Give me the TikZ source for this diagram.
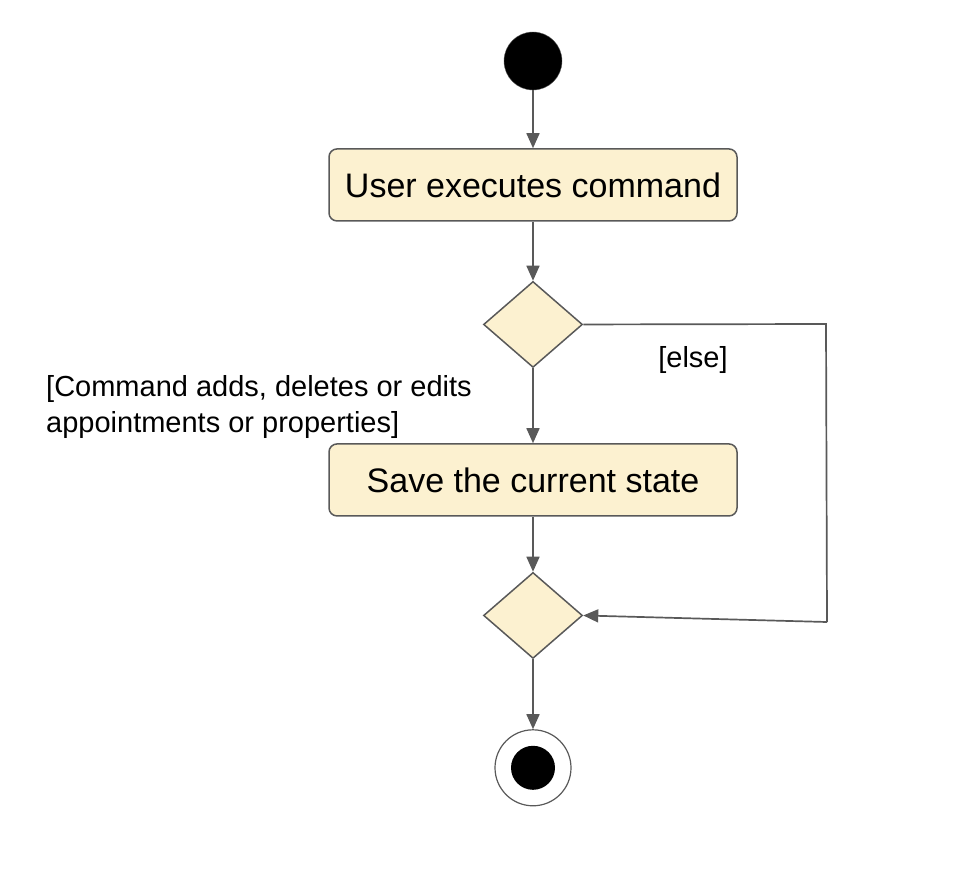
\documentclass[tikz,border=0pt]{standalone}
\usepackage{fontspec}
\setmainfont{Liberation Sans}
\usetikzlibrary{arrows.meta,positioning,shapes.geometric}
\definecolor{actfill}{RGB}{252,241,208}
\definecolor{edge}{RGB}{89,89,89}
\tikzset{
  act/.style={draw=edge, line width=1.5pt, fill=actfill, rounded corners=8pt,
              minimum width=408pt, minimum height=72pt,
              font=\fontsize{34}{40}\selectfont},
  dec/.style={diamond, draw=edge, line width=1.5pt, fill=actfill,
              minimum width=99pt, minimum height=86pt, inner sep=0pt},
  init/.style={circle, fill=black, draw=edge, minimum size=58pt, inner sep=0pt},
  fin/.style={circle, draw=edge, line width=1.2pt, minimum size=76pt, inner sep=0pt,
              path picture={\fill[black] (path picture bounding box.center) circle (22pt);}},
  sig/.style={-{Triangle[length=15pt,width=13pt]}, draw=edge, line width=1.7pt},
  flow/.style={draw=edge, line width=1.7pt},
  lbl/.style={font=\fontsize{29}{36}\selectfont, inner sep=0pt, align=left},
}
\begin{document}
\begin{tikzpicture}[x=1pt, y=-1pt]
    \useasboundingbox (0,0) rectangle (962,876);
    \node[init] (start) at (533,61) {};
    \node[act, below=58pt of start] (exec) {User executes command};
    \node[dec, below=59pt of exec] (chk) {};
    \node[act, below=75pt of chk] (save) {Save the current state};
    \node[dec, below=55pt of save] (merge) {};
    \node[fin, below=70pt of merge] (stop) {};
    \coordinate (c1) at (826,324);
    \coordinate (c2) at (827,622);
    \draw[sig] (start) -- (exec); \draw[sig] (exec) -- (chk);
    \draw[sig] (chk) -- (save); \draw[sig] (save) -- (merge);
    \draw[sig] (merge) -- (stop);
    \draw[flow] (chk.east) -- (c1) -- (c2);
    \draw[sig] (c2) -- (merge.east);
    \node[lbl] (elselbl) at (693,360) {[else]};
    \node[lbl, anchor=west] (cmdlbl) at (46,407)
      {[Command adds, deletes or edits\\appointments or properties]};
  \end{tikzpicture}
\end{document}
